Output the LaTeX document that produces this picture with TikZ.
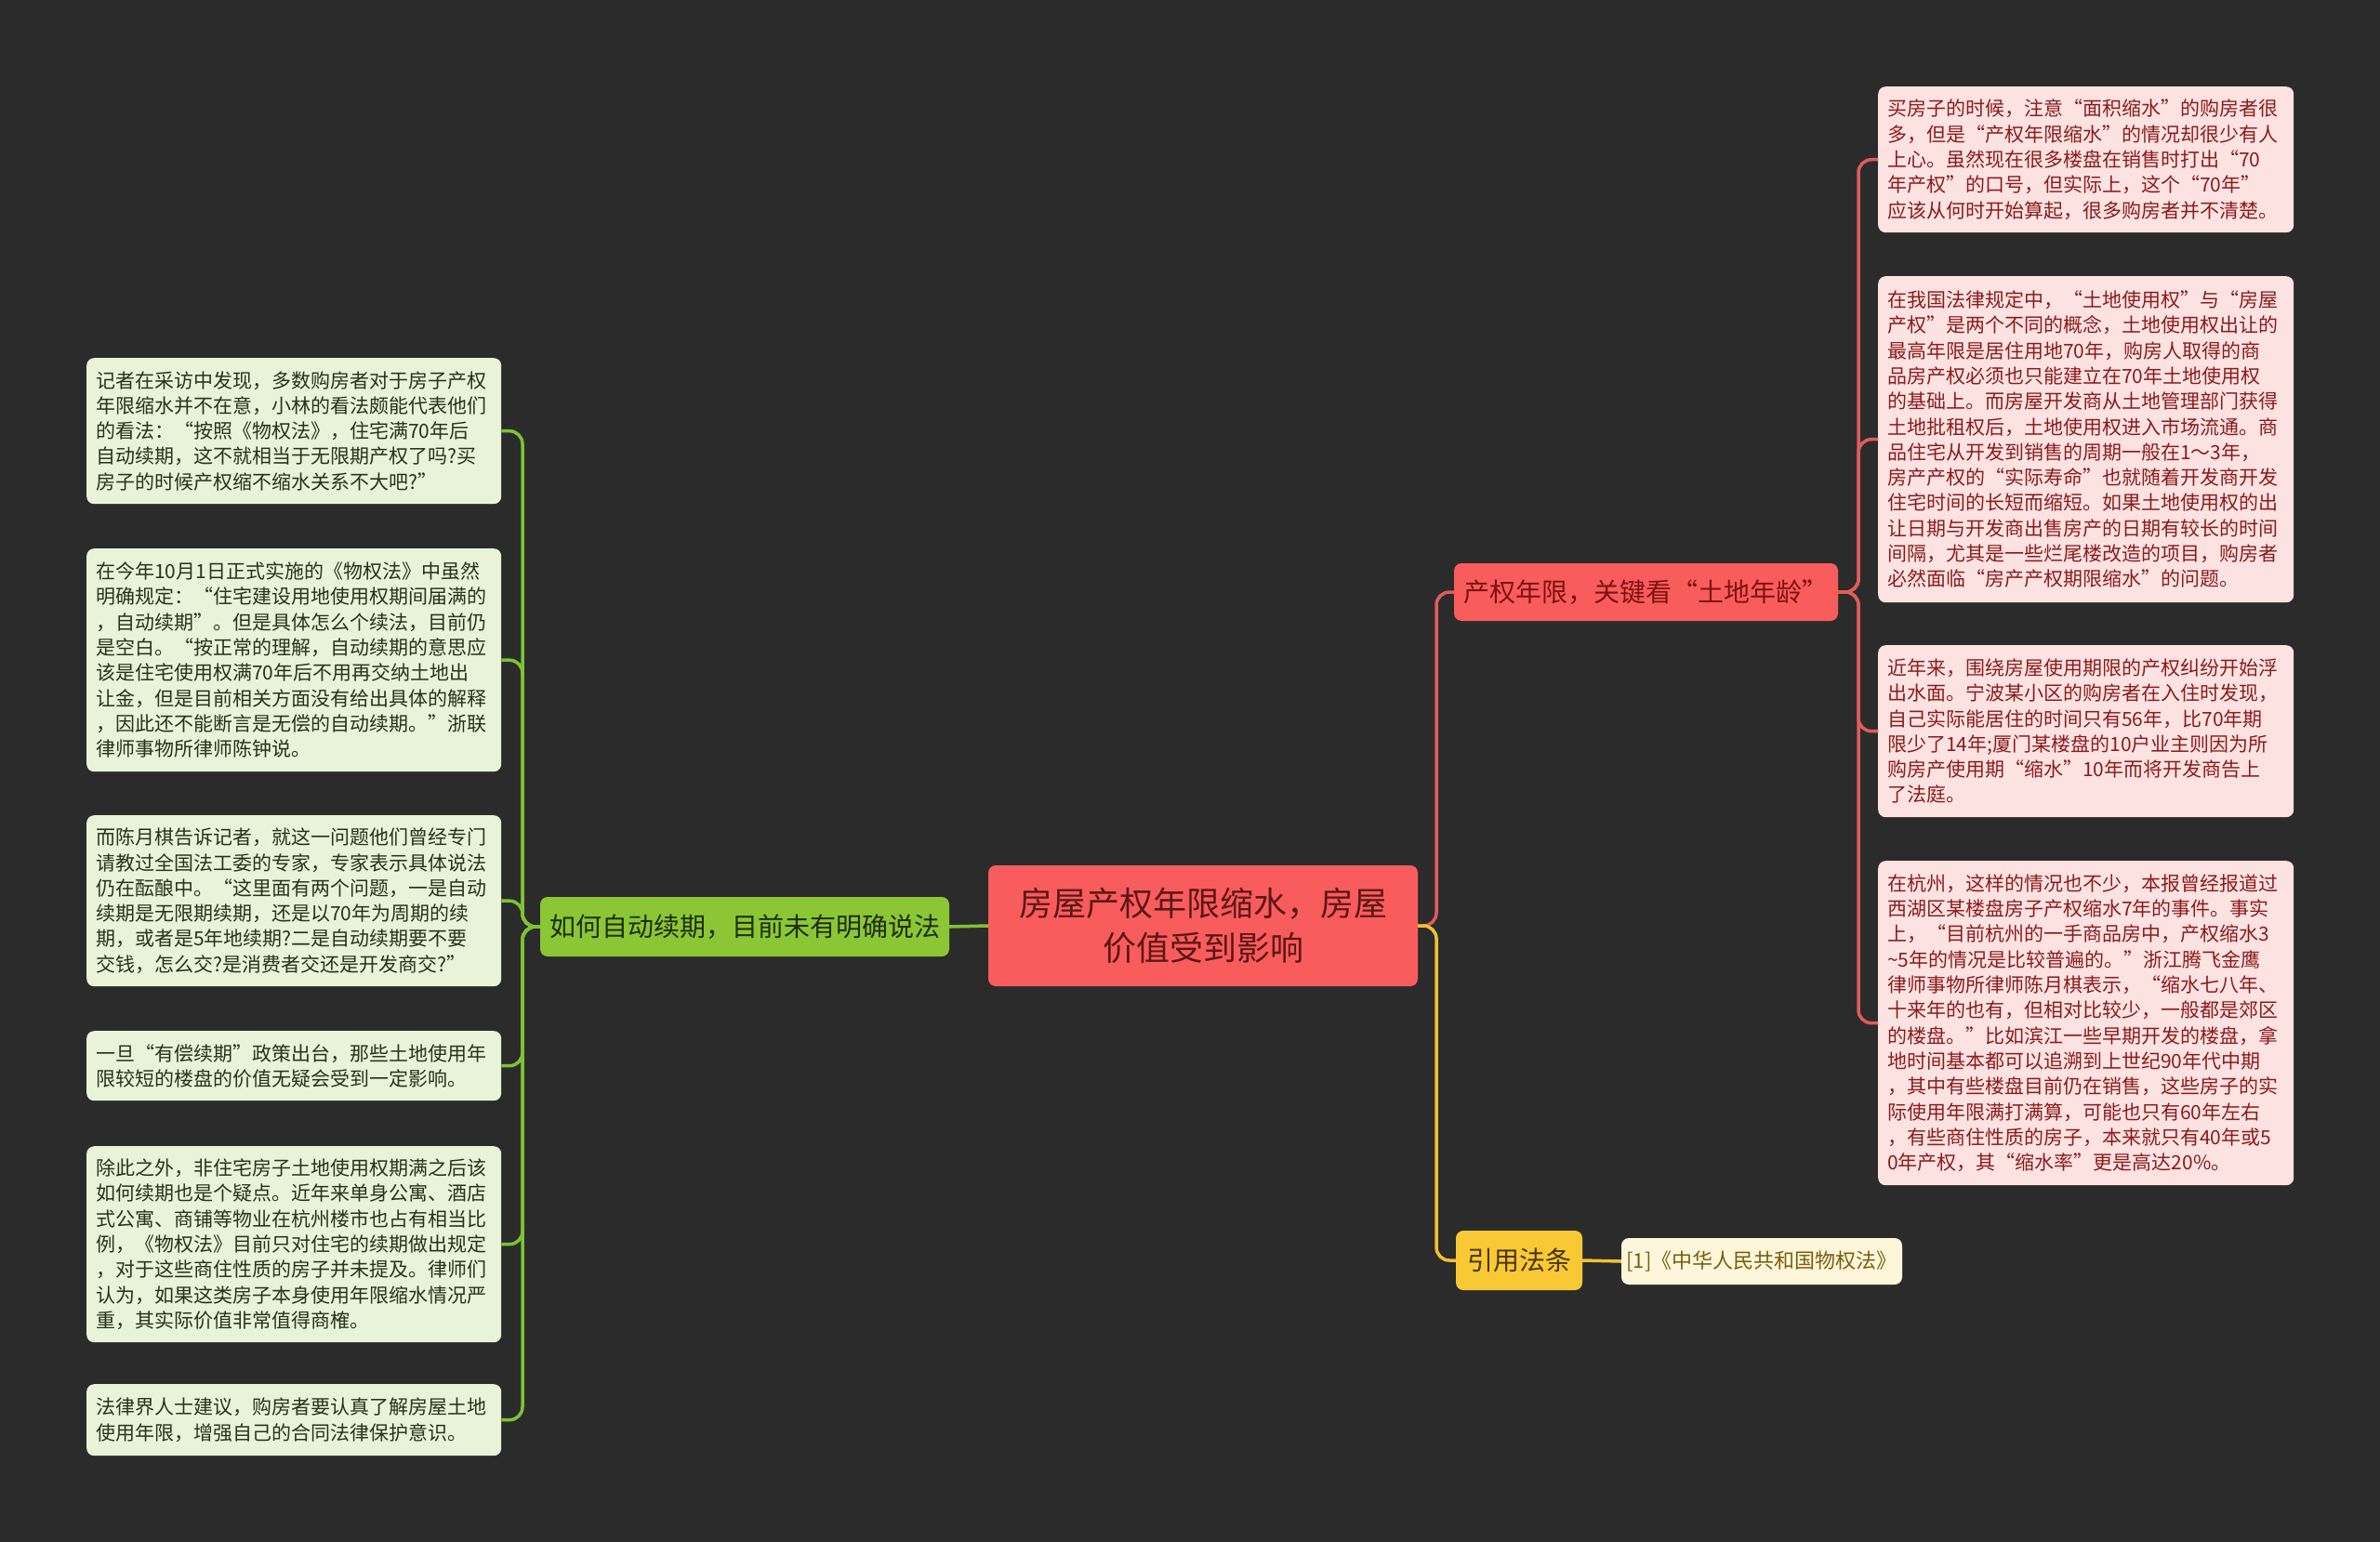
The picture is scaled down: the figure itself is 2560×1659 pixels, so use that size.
\documentclass[tikz,border=0pt]{standalone}
\usepackage{fontspec}
\setmainfont{Noto Sans CJK SC}
\definecolor{bg}{HTML}{2B2B2B}
\definecolor{lgfill}{HTML}{E9F3D7}
\definecolor{lgtext}{HTML}{26331A}
\definecolor{rpfill}{HTML}{FDE2E2}
\definecolor{rptext}{HTML}{8B1C1C}
\definecolor{cfill}{HTML}{F95C5C}
\definecolor{ctext}{HTML}{5C1717}
\definecolor{gfill}{HTML}{8BC634}
\definecolor{gtext}{HTML}{1F2D0A}
\definecolor{yfill}{HTML}{F9C935}
\definecolor{ytext}{HTML}{4A3508}
\definecolor{reffill}{HTML}{FDF6DA}
\definecolor{reftext}{HTML}{7A5E10}
\definecolor{gl}{HTML}{7EC332}
\definecolor{rl}{HTML}{E35B5B}
\definecolor{yl}{HTML}{F2C12E}
\tikzset{
  leafbase/.style={rectangle, rounded corners=8pt, inner xsep=10pt, inner ysep=0pt,
    align=left, anchor=north west, font=\fontsize{21}{27.3}\selectfont},
  leafG/.style={leafbase, fill=lgfill, text=lgtext, minimum width=446pt, text width=426pt},
  leafR/.style={leafbase, fill=rpfill, text=rptext, minimum width=447pt, text width=427pt},
  branch/.style={rectangle, rounded corners=8pt, inner sep=0pt, align=center,
    font=\fontsize{28}{34}\selectfont},
  gline/.style={draw=gl, line width=3.5pt, rounded corners=14pt},
  rline/.style={draw=rl, line width=3.5pt, rounded corners=14pt},
  yline/.style={draw=yl, line width=3.5pt, rounded corners=14pt},
}
\begin{document}
\begin{tikzpicture}[x=1pt, y=-1pt]
\fill[bg] (0,0) rectangle (2560,1659);
\useasboundingbox (0,0) rectangle (2560,1659);

% center
\node[branch, fill=cfill, text=ctext, minimum width=462pt, minimum height=130pt,
  font=\fontsize{36}{48}\selectfont] (c) at (1294,996) {房屋产权年限缩水，房屋\\价值受到影响};

% branches
\node[branch, fill=gfill, text=gtext, minimum width=440pt, minimum height=64pt] (g) at (801,997) {如何自动续期，目前未有明确说法};
\node[branch, fill=cfill, text=ctext!80!red, minimum width=413pt, minimum height=62pt] (p) at (1770.5,637) {产权年限，关键看“土地年龄”};
\node[branch, fill=yfill, text=ytext, minimum width=136pt, minimum height=64pt] (y) at (1634,1356) {引用法条};
\node[branch, fill=reffill, text=reftext, minimum width=302pt, minimum height=50pt,
  font=\fontsize{22}{28}\selectfont] (ref) at (1895,1357) {[1]《中华人民共和国物权法》};

% left leaves
\node[leafG, minimum height=157pt] (L1) at (93,385) {记者在采访中发现，多数购房者对于房子产权\\年限缩水并不在意，小林的看法颇能代表他们\\的看法：“按照《物权法》，住宅满70年后\\自动续期，这不就相当于无限期产权了吗?买\\房子的时候产权缩不缩水关系不大吧?”};
\node[leafG, minimum height=240pt] (L2) at (93,590) {在今年10月1日正式实施的《物权法》中虽然\\明确规定：“住宅建设用地使用权期间届满的\\，自动续期”。但是具体怎么个续法，目前仍\\是空白。“按正常的理解，自动续期的意思应\\该是住宅使用权满70年后不用再交纳土地出\\让金，但是目前相关方面没有给出具体的解释\\，因此还不能断言是无偿的自动续期。”浙联\\律师事物所律师陈钟说。};
\node[leafG, minimum height=184pt] (L3) at (93,877) {而陈月棋告诉记者，就这一问题他们曾经专门\\请教过全国法工委的专家，专家表示具体说法\\仍在酝酿中。“这里面有两个问题，一是自动\\续期是无限期续期，还是以70年为周期的续\\期，或者是5年地续期?二是自动续期要不要\\交钱，怎么交?是消费者交还是开发商交?”};
\node[leafG, minimum height=75pt] (L4) at (93,1109) {一旦“有偿续期”政策出台，那些土地使用年\\限较短的楼盘的价值无疑会受到一定影响。};
\node[leafG, minimum height=211pt] (L5) at (93,1233) {除此之外，非住宅房子土地使用权期满之后该\\如何续期也是个疑点。近年来单身公寓、酒店\\式公寓、商铺等物业在杭州楼市也占有相当比\\例，《物权法》目前只对住宅的续期做出规定\\，对于这些商住性质的房子并未提及。律师们\\认为，如果这类房子本身使用年限缩水情况严\\重，其实际价值非常值得商榷。};
\node[leafG, minimum height=77pt] (L6) at (93,1489) {法律界人士建议，购房者要认真了解房屋土地\\使用年限，增强自己的合同法律保护意识。};

% right leaves
\node[leafR, minimum height=157pt] (R1) at (2020,93) {买房子的时候，注意“面积缩水”的购房者很\\多，但是“产权年限缩水”的情况却很少有人\\上心。虽然现在很多楼盘在销售时打出“70\\年产权”的口号，但实际上，这个“70年”\\应该从何时开始算起，很多购房者并不清楚。};
\node[leafR, minimum height=351pt] (R2) at (2020,297) {在我国法律规定中，“土地使用权”与“房屋\\产权”是两个不同的概念，土地使用权出让的\\最高年限是居住用地70年，购房人取得的商\\品房产权必须也只能建立在70年土地使用权\\的基础上。而房屋开发商从土地管理部门获得\\土地批租权后，土地使用权进入市场流通。商\\品住宅从开发到销售的周期一般在1～3年，\\房产产权的“实际寿命”也就随着开发商开发\\住宅时间的长短而缩短。如果土地使用权的出\\让日期与开发商出售房产的日期有较长的时间\\间隔，尤其是一些烂尾楼改造的项目，购房者\\必然面临“房产产权期限缩水”的问题。};
\node[leafR, minimum height=185pt] (R3) at (2020,694) {近年来，围绕房屋使用期限的产权纠纷开始浮\\出水面。宁波某小区的购房者在入住时发现，\\自己实际能居住的时间只有56年，比70年期\\限少了14年;厦门某楼盘的10户业主则因为所\\购房产使用期“缩水”10年而将开发商告上\\了法庭。};
\node[leafR, minimum height=349pt] (R4) at (2020,926) {在杭州，这样的情况也不少，本报曾经报道过\\西湖区某楼盘房子产权缩水7年的事件。事实\\上，“目前杭州的一手商品房中，产权缩水3\\\textasciitilde5年的情况是比较普遍的。”浙江腾飞金鹰\\律师事物所律师陈月棋表示，“缩水七八年、\\十来年的也有，但相对比较少，一般都是郊区\\的楼盘。”比如滨江一些早期开发的楼盘，拿\\地时间基本都可以追溯到上世纪90年代中期\\，其中有些楼盘目前仍在销售，这些房子的实\\际使用年限满打满算，可能也只有60年左右\\，有些商住性质的房子，本来就只有40年或5\\0年产权，其“缩水率”更是高达20\%。};

% bus coordinates
\coordinate (gb) at (562,997);
\coordinate (cb) at (1545,996);
\coordinate (rb) at (1999,637);

% connectors
\draw[gline] (c.west) -- (g.east);
\foreach \n in {L1,L2,L3,L4,L5,L6} { \draw[gline] (g.west) -- (gb) |- (\n.east); }
\draw[rline] (c.east) -- (cb) |- (p.west);
\draw[yline] (c.east) -- (cb) |- (y.west);
\foreach \n in {R1,R2,R3,R4} { \draw[rline] (p.east) -- (rb) |- (\n.west); }
\draw[yline] (y.east) -- (ref.west);
\end{tikzpicture}
\end{document}
